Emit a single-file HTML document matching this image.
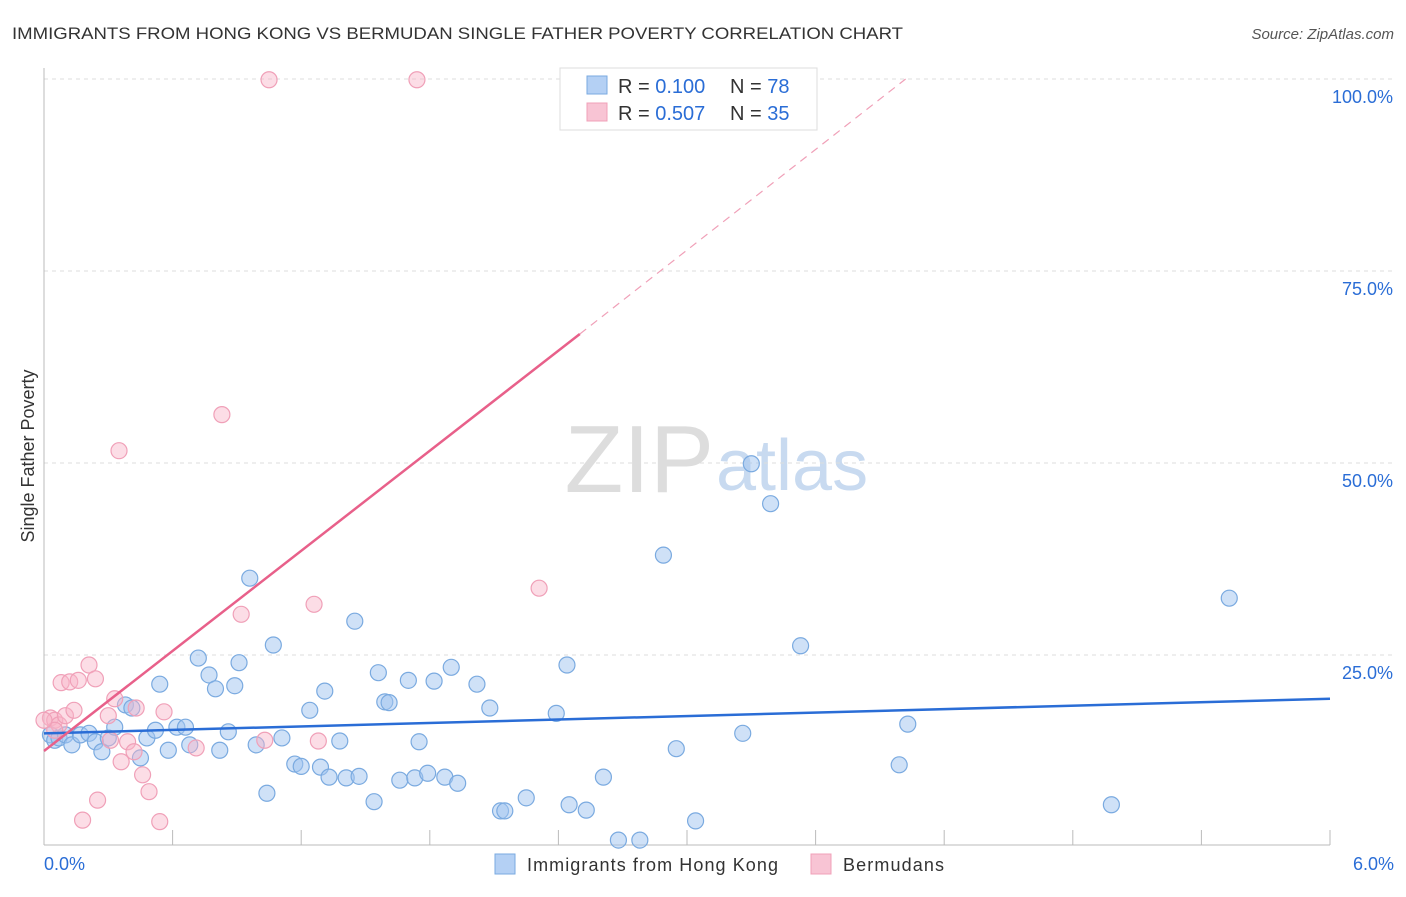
<!DOCTYPE html>
<html><head><meta charset="utf-8"><style>
body{margin:0;background:#fff;font-family:"Liberation Sans",sans-serif;}
svg text{font-family:"Liberation Sans",sans-serif;}
</style></head><body>
<svg id="chart" width="1406" height="892">
<text x="12" y="39" font-size="17" fill="#333" textLength="891" lengthAdjust="spacingAndGlyphs">IMMIGRANTS FROM HONG KONG VS BERMUDAN SINGLE FATHER POVERTY CORRELATION CHART</text>
<text x="1394" y="39" font-size="15" fill="#555" text-anchor="end" font-style="italic">Source: ZipAtlas.com</text>
<text x="34" y="456" font-size="18" fill="#333" text-anchor="middle" transform="rotate(-90 34 456)">Single Father Poverty</text>
<text x="714" y="492" font-size="96" fill="#ddd" text-anchor="end" font-family="Liberation Serif">ZIP</text>
<text x="716" y="490" font-size="72" fill="#c8daf0">atlas</text>
<g id="grid"></g><g id="axes"></g><g id="pts"></g><g id="lines"></g>
<g>
<rect x="560" y="68" width="257" height="62" fill="#fff" stroke="#ddd"/>
<rect x="587" y="76" width="20" height="18" fill="#b4d0f4" stroke="#7aaae0"/>
<rect x="587" y="103" width="20" height="18" fill="#f8c4d4" stroke="#f0a0b8"/>
<text x="618" y="93" font-size="20" fill="#333">R = <tspan fill="#2a6dd6">0.100</tspan></text>
<text x="730" y="93" font-size="20" fill="#333">N = <tspan fill="#2a6dd6">78</tspan></text>
<text x="618" y="120" font-size="20" fill="#333">R = <tspan fill="#2a6dd6">0.507</tspan></text>
<text x="730" y="120" font-size="20" fill="#333">N = <tspan fill="#2a6dd6">35</tspan></text>
</g>
<g>
<rect x="495" y="854" width="20" height="20" fill="#b4d0f4" stroke="#7aaae0"/>
<text x="527" y="871" font-size="18" fill="#333" textLength="251">Immigrants from Hong Kong</text>
<rect x="811" y="854" width="20" height="20" fill="#f8c4d4" stroke="#f0a0b8"/>
<text x="843" y="871" font-size="18" fill="#333" textLength="101">Bermudans</text>
</g>
</svg>
<script>
const yTicks=[25,50,75,100];
const yTickLabels=["25.0%","50.0%","75.0%","100.0%"];
const xTickLabels=["0.0%","6.0%"];
const blueX=[0.03,0.05,0.07,0.10,0.13,0.17,0.21,0.24,0.27,0.30,0.33,0.38,0.41,0.45,0.48,0.52,0.54,0.58,0.62,0.66,0.68,0.72,0.77,0.80,0.82,0.86,0.89,0.91,0.96,0.99,1.04,1.07,1.11,1.17,1.20,1.24,1.29,1.31,1.33,1.38,1.41,1.45,1.47,1.54,1.56,1.59,1.61,1.66,1.70,1.73,1.75,1.79,1.82,1.87,1.90,1.93,2.02,2.08,2.13,2.15,2.25,2.39,2.44,2.45,2.53,2.61,2.68,2.78,2.89,2.95,3.04,3.26,3.30,3.39,3.53,3.99,4.03,4.98,5.53];
const blueY=[14.6,13.9,14.2,14.6,13.3,14.6,14.8,13.7,12.4,14.2,15.6,18.5,18.1,11.6,14.2,15.2,21.2,12.6,15.6,15.6,13.3,24.6,22.4,20.6,12.6,15.0,21.0,24.0,35.0,13.3,7.0,26.3,14.2,10.8,10.5,17.8,10.4,20.3,9.1,13.8,9.0,29.4,9.2,5.9,22.7,18.9,18.8,8.7,21.7,9.0,13.7,9.6,21.6,9.1,23.4,8.3,21.2,18.1,4.7,4.7,6.4,17.4,23.7,5.5,4.8,9.1,0.9,0.9,38.0,12.8,3.4,14.8,49.9,44.7,26.2,10.7,16.0,5.5,32.4];
const pinkX=[0.03,0.05,0.07,0.10,0.08,0.12,0.14,0.16,0.18,0.21,0.24,0.25,0.30,0.31,0.33,0.35,0.36,0.39,0.42,0.43,0.46,0.49,0.54,0.56,0.71,0.83,0.92,1.03,1.05,1.26,1.28,1.74,2.31,0.05,0.00];
const pinkY=[16.8,16.5,15.9,17.1,21.4,21.5,17.8,21.7,3.5,23.7,21.9,6.1,17.1,13.9,19.3,51.6,11.1,13.7,12.4,18.1,9.4,7.2,3.3,17.6,12.9,56.3,30.3,13.9,99.9,31.6,13.8,99.9,33.7,15.2,16.5];
const blueLine=[[0,14.8],[6,19.3]];
const pinkLine=[[0,12.5],[2.5,66.8]];
const pinkDash=[[2.5,66.8],[4.02,100]];

const L=44,R=1330,T=79,B=847;
const sx=v=>L+(R-L)*v/6;
const sy=v=>B-(B-T)*v/100;
const NS="http://www.w3.org/2000/svg";
function mk(tag,attrs,parent){const e=document.createElementNS(NS,tag);for(const k in attrs)e.setAttribute(k,attrs[k]);document.getElementById(parent).appendChild(e);return e;}
yTicks.forEach((t,i)=>{
  const g=mk('line',{x1:L,x2:1394,y1:sy(t),y2:sy(t),stroke:'#ddd','stroke-dasharray':'4,4'},'grid');
  
  
  const tx=mk('text',{x:1393,y:sy(t)+24,'font-size':18,fill:'#2a6dd6','text-anchor':'end'},'axes');
  tx.textContent=yTickLabels[i];
  
  
});
const ax=mk('line',{x1:L,x2:L,y1:68,y2:845,stroke:'#bbb'},'axes');


const bx=mk('line',{x1:L,x2:R,y1:845,y2:845,stroke:'#bbb'},'axes');


for(let i=0;i<=10;i++){
  const tk=mk('line',{x1:sx(i*0.6),x2:sx(i*0.6),y1:830,y2:845,stroke:'#bbb'},'axes');
  
  
}
[[0,'start',44],[1,'end',1394]].forEach(([i,a,x])=>{
  const t=mk('text',{x:x,y:870,'font-size':18,fill:'#2a6dd6','text-anchor':a},'axes');
  t.textContent=xTickLabels[i];
  
  
});
blueX.forEach((v,i)=>{
  const c=mk('circle',{cx:sx(v),cy:sy(blueY[i]),r:8,fill:'rgba(160,196,240,0.5)',stroke:'#7aaae0','stroke-width':1.2},'pts');
  
  
});
pinkX.forEach((v,i)=>{
  const c=mk('circle',{cx:sx(v),cy:sy(pinkY[i]),r:8,fill:'rgba(248,180,200,0.45)',stroke:'#f0a0b8','stroke-width':1.2},'pts');
  
  
});
const bl=mk('line',{x1:sx(blueLine[0][0]),y1:sy(blueLine[0][1]),x2:sx(blueLine[1][0]),y2:sy(blueLine[1][1]),stroke:'#2a6dd6','stroke-width':2.5},'lines');


const pl=mk('line',{x1:sx(pinkLine[0][0]),y1:sy(pinkLine[0][1]),x2:sx(pinkLine[1][0]),y2:sy(pinkLine[1][1]),stroke:'#e8608a','stroke-width':2.5},'lines');


const pd=mk('line',{x1:sx(pinkDash[0][0]),y1:sy(pinkDash[0][1]),x2:sx(pinkDash[1][0]),y2:sy(pinkDash[1][1]),stroke:'#f0a0b8','stroke-width':1.2,'stroke-dasharray':'8,6'},'lines');


</script>
</body></html>
